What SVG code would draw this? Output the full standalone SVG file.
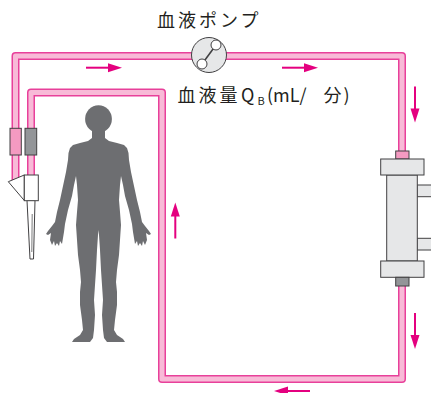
<svg xmlns="http://www.w3.org/2000/svg" xmlns:xlink="http://www.w3.org/1999/xlink" width="431" height="393" viewBox="0 0 431 393">
  <style>
    .tube-edge { fill: none; stroke: #e8409a; stroke-width: 8; stroke-linejoin: round; }
    .tube-core { fill: none; stroke: #f8bad7; stroke-width: 5; stroke-linejoin: round; }
    .part { stroke: #414042; stroke-width: 1; }
    .grey { fill: #e6e7e8; }
    .dark { fill: #939598; }
    .pinkc { fill: #f49ac1; }
    .lbl { font-family: "Noto Sans CJK JP", "Noto Sans", sans-serif; font-size: 18px; fill: #231f20; }
    .flow { fill: #e4007f; }
  </style>
  <defs>
    <!-- flow arrow, pointing along +x -->
    <g id="arr">
      <rect x="0" y="-1" width="24" height="2" class="flow"/>
      <polygon points="22,-4.5 36,0 22,4.5" class="flow"/>
    </g>
  </defs>

  <rect width="431" height="393" fill="#ffffff"/>

  <!-- blood lines -->
  <g id="connectors">
    <path class="tube-edge" d="M15.5,181 V56 H402 V152"/>
    <path class="tube-core" d="M15.5,181 V56 H402 V152"/>
    <path class="tube-edge" d="M31,176 V92.5 H162 V379 H402 V285"/>
    <path class="tube-core" d="M31,176 V92.5 H162 V379 H402 V285"/>
  </g>

  <!-- flow direction arrows -->
  <g id="flow-arrows">
    <use xlink:href="#arr" transform="translate(86,67.7)"/>
    <use xlink:href="#arr" transform="translate(282,67.7)"/>
    <use xlink:href="#arr" transform="translate(415,86.5) rotate(90)"/>
    <use xlink:href="#arr" transform="translate(415,313) rotate(90)"/>
    <use xlink:href="#arr" transform="translate(175.3,238.5) rotate(-90)"/>
    <use xlink:href="#arr" transform="translate(310,391) rotate(180)"/>
  </g>

  <!-- blood pump -->
  <g id="pump">
    <circle cx="209" cy="55" r="17.5" class="grey part"/>
    <line x1="216" y1="45" x2="202" y2="64" stroke="#414042" stroke-width="1.6"/>
    <circle cx="216" cy="45" r="5" fill="#ffffff" class="part"/>
    <circle cx="202" cy="64" r="5" fill="#ffffff" class="part"/>
  </g>

  <!-- dialyzer -->
  <g id="dialyzer">
    <rect x="395.7" y="151" width="13.3" height="8" class="pinkc part"/>
    <rect x="417" y="185" width="16" height="11.7" class="grey part"/>
    <rect x="417" y="238.3" width="16" height="11.7" class="grey part"/>
    <rect x="386.7" y="175" width="30.6" height="86" class="grey part"/>
    <rect x="380.7" y="159" width="43.3" height="16" class="grey part"/>
    <rect x="380.7" y="261" width="43.3" height="16.3" class="grey part"/>
    <rect x="395.7" y="277.3" width="13.3" height="8.7" class="dark part"/>
  </g>

  <!-- vascular access: line connectors and needle -->
  <g id="access">
    <rect x="10" y="128.3" width="11.3" height="26.7" class="pinkc part"/>
    <rect x="25" y="128.3" width="11.7" height="26.7" class="dark part"/>
    <polygon points="27,200.5 35,200.5 33.5,259 30,259" fill="#ffffff" class="part" stroke-width="0.8"/>
    <line x1="32.2" y1="214" x2="31.8" y2="252" stroke="#414042" stroke-width="0.7"/>
    <polygon points="24.3,175 8.3,181.7 24.3,200.5" fill="#ffffff" class="part"/>
    <rect x="24.3" y="175" width="14" height="25.7" fill="#ffffff" class="part"/>
  </g>

  <!-- patient -->
  <g id="patient" fill="#6d6e71">
    <ellipse cx="98.5" cy="119" rx="13.4" ry="13.8"/>
    <path d="M92,128 L92,138 L88,141 L80,143 L73,145 L70,148 L68.5,153 L68,160 L66,172 L63,186 L60,200 L57,212 L55,222
             L52,226 L48,231 L46,234 L48,235 L51,233 L50,240 L52,245 L54,241 L55,246 L57,243 L59,246 L60,241 L62,244 L63,238 L64,232
             L65,224 L68,210 L72,196 L74,185 L76,176
             L77,185 L78,200 L77,212 L76,225 L77,240 L78,255 L80,270 L81,282 L80,292 L80,305 L82,320 L83,330
             L80,335 L74,339 L72,342 L90,342 L93,338 L94,330 L95,315 L94,300 L95,285 L96,270 L97,250 L98,235 L98.5,230
             L99,235 L100,250 L101,270 L102,285 L103,300 L102,315 L103,330 L104,338 L107,342 L125,342 L123,339 L117,335 L114,330
             L115,320 L117,305 L117,292 L116,282 L117,270 L119,255 L120,240 L121,225 L120,212 L119,200 L120,185 L121,176
             L123,185 L125,196 L129,210 L132,224 L133,232 L134,238 L135,244 L137,241 L138,246 L140,243 L142,246 L143,241 L145,245 L147,240 L146,233 L149,235 L151,234 L149,231 L145,226 L142,222
             L140,212 L137,200 L134,186 L131,172 L129,160 L128.5,153 L127,148 L124,145 L117,143 L109,141 L105,138 L105,128 Z"/>
  </g>

  <!-- labels -->
  <g id="labels" class="lbl">
    <text x="157" y="27" letter-spacing="3">血液ポンプ</text>
    <text y="101.5"><tspan x="177.5" letter-spacing="3">血液量</tspan><tspan x="241">Q</tspan><tspan x="257.5" y="105" font-size="11">B</tspan><tspan x="267" y="101.5">(mL/</tspan><tspan x="323.5">分</tspan><tspan x="343.5">)</tspan></text>
  </g>
</svg>
